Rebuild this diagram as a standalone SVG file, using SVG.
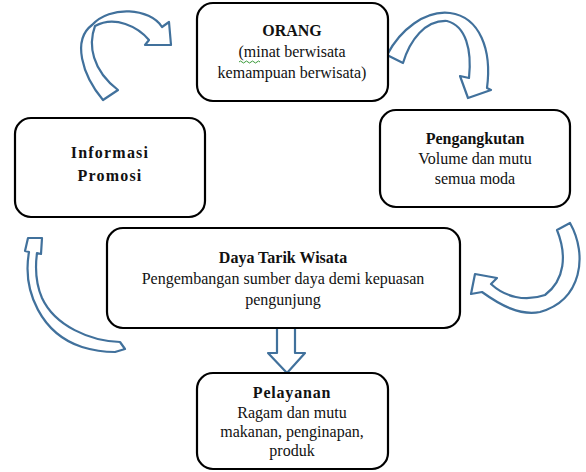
<svg xmlns="http://www.w3.org/2000/svg" width="586" height="472" viewBox="0 0 586 472">
<style>
.box{fill:#fff;stroke:#000;stroke-width:2.2}
.arr{fill:#fff;stroke:#41719C;stroke-width:2.2;stroke-linejoin:round}
text{font-family:"Liberation Serif","Times New Roman","DejaVu Serif",serif;font-size:16px;fill:#111;text-anchor:middle}
.b{font-weight:bold}
</style>
<rect width="586" height="472" fill="#fff"/>
<g id="connectors">
<path class="arr" d="M103,100 C 82,75 72,40 92,25 C 110,5 150,8 162,27 L 169,22 L 171,45 L 145,45 L 149,40 C 138,27 115,15 95,26 C 88,45 92,70 118,90 Z"/>
<path class="arr" d="M387,55 C 400,30 425,10 450,13 C 480,17 492,50 487,88 L 491,90 L 468,98 L 460,76 L 469,78 C 472,50 466,26 447,21 C 425,20 410,40 403,63 Z"/>
<path class="arr" d="M557,230 L 570,223 C 588,255 582,300 540,312 C 520,316 500,305 482,292 L 471,294 L 475,274 L 497,278 L 491,284 C 505,297 525,302 545,295 C 565,280 567,255 557,230 Z"/>
<path class="arr" d="M29,252 C 22,292 42,334 82,347 C 95,351 105,352 115,352 L 125,349 L 120,342 C 90,341 55,326 42,298 C 36,284 35,268 37,253 L 41,254 L 42,238 L 28,238 L 25,251 Z"/>
<path class="arr" d="M277,328 L 295,328 L 295,353 L 305,353 L 287,373 L 268,353 L 277,353 Z"/>
</g>
<g id="orang">
<rect class="box" x="197" y="3" width="191" height="98" rx="16"/>
<text class="b" x="292" y="36">ORANG</text>
<text x="292" y="57">(minat berwisata</text>
<text x="292" y="78">kemampuan berwisata)</text>
<path d="M239,62 q1.5,-2 3,0 t3,0 t3,0 t3,0 t3,0 t3,0 t3,0" fill="none" stroke="#3a9a3a" stroke-width="1"/>
</g>
<g id="pengangkutan">
<rect class="box" x="380" y="110" width="190" height="97" rx="16"/>
<text class="b" x="475" y="144">Pengangkutan</text>
<text x="475" y="164">Volume dan mutu</text>
<text x="475" y="184">semua moda</text>
</g>
<g id="informasi">
<rect class="box" x="15" y="118" width="190" height="99" rx="16"/>
<text class="b" x="110" y="158" letter-spacing="1.2">Informasi</text>
<text class="b" x="110" y="181" letter-spacing="1.2">Promosi</text>
</g>
<g id="daya-tarik">
<rect class="box" x="107" y="228" width="353" height="100" rx="16"/>
<text class="b" x="283" y="263">Daya Tarik Wisata</text>
<text x="283" y="284">Pengembangan sumber daya demi kepuasan</text>
<text x="283" y="305">pengunjung</text>
</g>
<g id="pelayanan">
<rect class="box" x="197" y="373" width="191" height="96" rx="16"/>
<text class="b" x="292" y="398" letter-spacing="0.8">Pelayanan</text>
<text x="292" y="418">Ragam dan mutu</text>
<text x="292" y="437">makanan, penginapan,</text>
<text x="292" y="456">produk</text>
</g>
</svg>
